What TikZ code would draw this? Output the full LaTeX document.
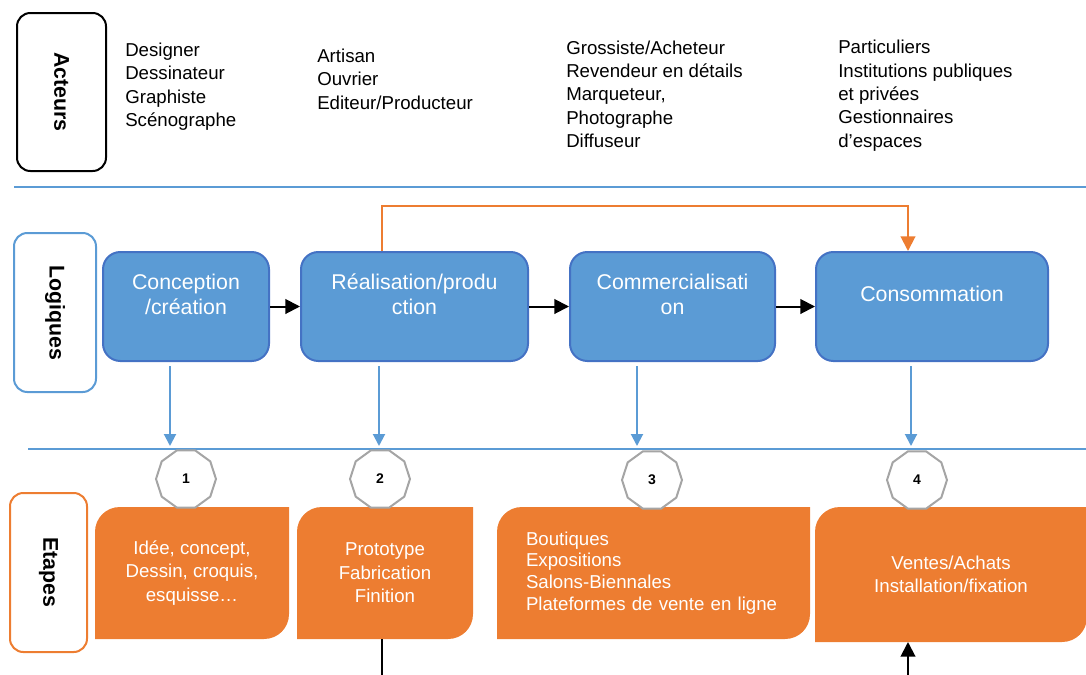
\documentclass[tikz,border=0pt]{standalone}
\usepackage{fontspec}
\setmainfont{Liberation Sans}
\usetikzlibrary{shapes.geometric,arrows.meta,calc,backgrounds}
\definecolor{bfill}{HTML}{5B9BD5}
\definecolor{bline}{HTML}{4472C4}
\definecolor{oc}{HTML}{ED7D31}
\definecolor{gr}{HTML}{A5A5A5}
\newcommand\myoshape[1]{\fill[oc] (#1.south west) -- ($(#1.north west)+(0,25)$) .. controls ($(#1.north west)+(0,11)$) and ($(#1.north west)+(11,0)$) .. ($(#1.north west)+(25,0)$) -- (#1.north east) -- ($(#1.south east)+(0,-25)$) .. controls ($(#1.south east)+(0,-11)$) and ($(#1.south east)+(-11,0)$) .. ($(#1.south east)+(-25,0)$) -- cycle;}
\begin{document}
\begin{tikzpicture}[x=0.75pt,y=-0.75pt,
 lbl/.style={draw, line width=1.5pt, rounded corners=10pt, rotate=-90, font=\fontsize{16}{19}\selectfont\bfseries, inner sep=0},
 bbox/.style={fill=bfill, draw=bline, line width=1.5pt, rounded corners=13pt, text=white, align=center, font=\fontsize{16}{18.75}\selectfont, minimum height=81.75pt, inner sep=0},
 obox/.style={inner sep=0, outer sep=0, text=white, align=center, font=\fontsize{14}{17.6}\selectfont, minimum height=99pt},
 deca/.style={regular polygon, regular polygon sides=10, minimum size=45pt, draw=gr, line width=1.5pt, fill=white, inner sep=0, font=\fontsize{10.5}{12}\selectfont\bfseries},
 actor/.style={align=left, anchor=base west, inner sep=0, font=\fontsize{14}{17.5}\selectfont},
 hline/.style={draw=bfill, line width=1pt},
 barrow/.style={draw=bfill, line width=1.5pt, -{Triangle[length=9pt,width=9pt]}},
 karrow/.style={draw=black, line width=1.5pt, -{Triangle[length=11pt,width=11pt]}},
 kline/.style={draw=black, line width=1.5pt},
 oarrow/.style={draw=oc, line width=1.5pt, -{Triangle[length=11pt,width=11pt]}},
]
\useasboundingbox (0,0) rectangle (1086,675);

% separators
\coordinate (h1a) at (14,187); \coordinate (h1b) at (1086,187);
\coordinate (h2a) at (28,449); \coordinate (h2b) at (1086,449);
\draw[hline] (h1a) -- (h1b);
\draw[hline] (h2a) -- (h2b);

% row labels
\node[lbl, draw=black, minimum width=118.5pt, minimum height=66.75pt] (acteurs) at (61.5,92) {Acteurs};
\node[lbl, draw=bfill, minimum width=119.25pt, minimum height=61.5pt] (logiques) at (55,312.5) {Logiques};
\node[lbl, draw=oc, minimum width=119.25pt, minimum height=57.75pt] (etapes) at (48.5,572.5) {Etapes};

% actors (anchored at the baseline of the last line)
\node[actor] (a1) at (125,126.5) {Designer\\Dessinateur\\Graphiste\\Scénographe};
\node[actor] (a2) at (317,109) {Artisan\\Ouvrier\\Editeur/Producteur};
\node[actor] (a3) at (566,147.5) {Grossiste/Acheteur\\Revendeur en détails\\Marqueteur,\\Photographe\\Diffuseur};
\node[actor] (a4) at (838,147) {Particuliers\\Institutions publiques\\et privées\\Gestionnaires\\d’espaces};

% logic boxes
\node[bbox, minimum width=124.5pt] (B1) at (186,306.5) {Conception\\/création\\\mbox{}};
\node[bbox, minimum width=170.25pt] (B2) at (414.5,306.5) {Réalisation/produ\\ction\\\mbox{}};
\node[bbox, minimum width=153.75pt] (B3) at (672.5,306.5) {Commercialisati\\on\\\mbox{}};
\node[bbox, minimum width=174pt] (B4) at (932,306.5) {Consommation\\\mbox{}};

\draw[karrow] (B1.east) -- (B2.west);
\draw[karrow] (B2.east) -- (B3.west);
\draw[karrow] (B3.east) -- (B4.west);
\draw[oarrow] ($(B2.north)+(-32.5,0)$) -- ++(0,-45) -| ($(B4.north)+(-24,0)$);

\draw[barrow] ($(B1.south)+(-16,4)$) -- ++(0,80);
\draw[barrow] ($(B2.south)+(-35.5,4)$) -- ++(0,80);
\draw[barrow] ($(B3.south)+(-35.5,4)$) -- ++(0,80);
\draw[barrow] ($(B4.south)+(-21,4)$) -- ++(0,80);

% step boxes
\node[obox, minimum width=145.5pt] (O1) at (192,573) {Idée, concept,\\Dessin, croquis,\\esquisse…};
\node[obox, minimum width=132pt] (O2) at (385,573) {Prototype\\Fabrication\\Finition};
\node[obox, align=left, text width=191.25pt, minimum width=234.75pt, font=\fontsize{14}{16.3}\selectfont] (O3) at (653.5,573) {Boutiques\\Expositions\\Salons-Biennales\\Plateformes de vente en ligne};
\node[obox, minimum width=204pt, minimum height=101.25pt] (O4) at (951,574.5) {Ventes/Achats\\Installation/fixation};
\begin{scope}[on background layer]
\myoshape{O1}
\myoshape{O2}
\myoshape{O3}
\myoshape{O4}
\end{scope}

% numbers
\node[deca] (n1) at (186,479) {1};
\node[deca] (n2) at (380,479) {2};
\node[deca] (n3) at (652,480) {3};
\node[deca] (n4) at (917,480) {4};

% bottom connectors
\coordinate (kb) at (908,677);
\draw[kline] ($(O2.south)+(-3,0)$) -- ++(0,40);
\draw[karrow] (kb) -- (kb |- O4.south);
\end{tikzpicture}
\end{document}
